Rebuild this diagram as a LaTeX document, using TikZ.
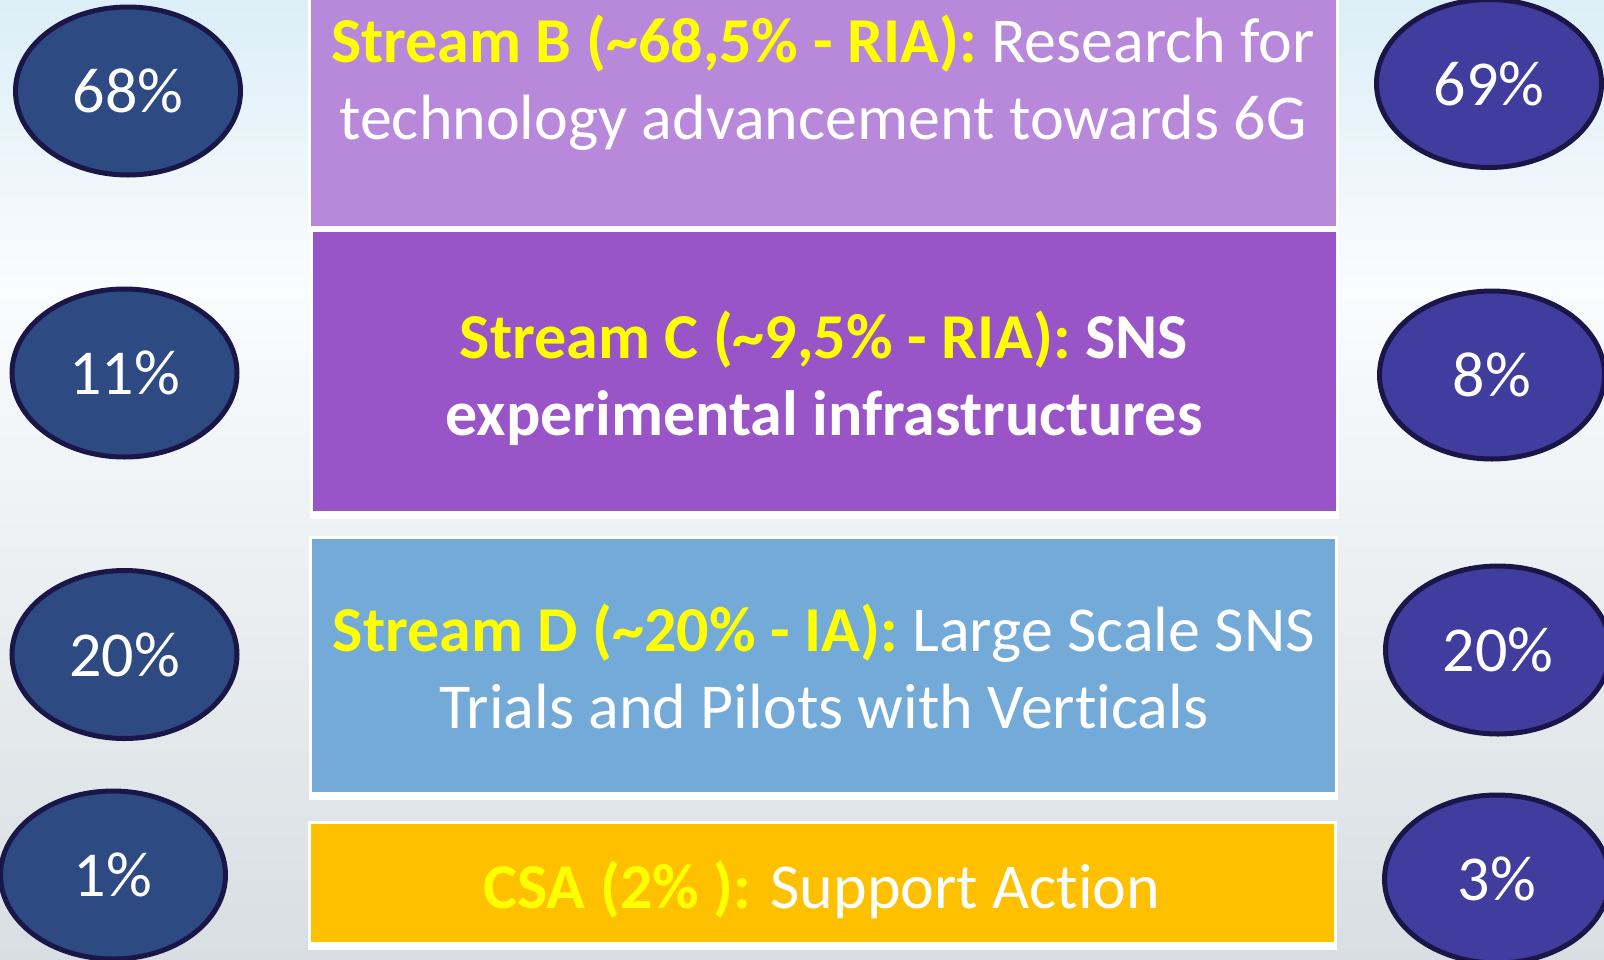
\documentclass[tikz,border=0pt]{standalone}
\usepackage{fontspec}
\setmainfont[Ligatures={NoCommon}]{Carlito}
\usetikzlibrary{shapes.geometric}
\definecolor{bgtop}{HTML}{DCEEF7}
\definecolor{bgmid}{HTML}{FAFCFE}
\definecolor{bgbot}{HTML}{D8DEE2}
\definecolor{colB}{HTML}{B889DB}
\definecolor{colC}{HTML}{9954C8}
\definecolor{colD}{HTML}{74AAD8}
\definecolor{colCSA}{HTML}{FFC000}
\definecolor{ellL}{HTML}{2E4A82}
\definecolor{ellR}{HTML}{403D9F}
\definecolor{ellBorder}{HTML}{1A1648}
\definecolor{hl}{HTML}{FFFF00}
\tikzset{
  pct/.style={ellipse, draw=ellBorder, line width=2.5pt, minimum width=112.5pt, minimum height=84pt,
    inner sep=0pt, text=white, font=\fontsize{32}{38}\selectfont},
  leftell/.style={pct, fill=ellL},
  rightell/.style={pct, fill=ellR},
  boxtext/.style={text=white, align=center, inner sep=0pt, font=\fontsize{32}{38.5}\selectfont},
  whiteframe/.style={fill=white},
}
\newcommand{\hlb}[1]{\textcolor{hl}{\bfseries #1}}
\begin{document}
\begin{tikzpicture}[x=0.5pt,y=-0.5pt]
\useasboundingbox (0,0) rectangle (1604,959);
\clip (0,0) rectangle (1604,959);
% background
\fill[top color=bgtop, bottom color=bgmid] (0,0) rectangle (1604,290);
\fill[top color=bgmid, bottom color=bgbot] (0,289) rectangle (1604,960);
% boxes
\fill[whiteframe] (308,-10) rectangle (1339,232);
\fill[colB] (311,-10) rectangle (1336,226);
\fill[whiteframe] (310,229) rectangle (1339,519);
\fill[colC] (313,232) rectangle (1336,511);
\fill[whiteframe] (309,536) rectangle (1338,800);
\fill[colD] (312,539) rectangle (1335,792);
\fill[whiteframe] (308,821) rectangle (1337,950);
\fill[colCSA] (311,824) rectangle (1334,942);
% box texts
\node[boxtext] (tB) at (823,83) {\hlb{Stream B (\textasciitilde 68,5\% - RIA):} Research for\\technology advancement towards 6G};
\node[boxtext, font=\fontsize{32}{38.5}\selectfont\bfseries] (tC) at (824,378) {\hlb{Stream C (\textasciitilde 9,5\% - RIA):} SNS\\experimental infrastructures};
\node[boxtext] (tD) at (824,666) {\hlb{Stream D (\textasciitilde 20\% - IA):} Large Scale SNS\\Trials and Pilots with Verticals};
\node[boxtext, anchor=base] (tCSA) at (822,908) {\hlb{CSA (2\% ):} Support Action};
% ellipses
\node[leftell] (l1) at (128,91) {68\%};
\node[leftell] (l2) at (124.5,373) {11\%};
\node[leftell] (l3) at (124.5,654.5) {20\%};
\node[leftell] (l4) at (113,875) {1\%};
\node[rightell] (r1) at (1489,83.5) {69\%};
\node[rightell] (r2) at (1492,375) {8\%};
\node[rightell] (r3) at (1498,650) {20\%};
\node[rightell] (r4) at (1497,879) {3\%};
\end{tikzpicture}
\end{document}
